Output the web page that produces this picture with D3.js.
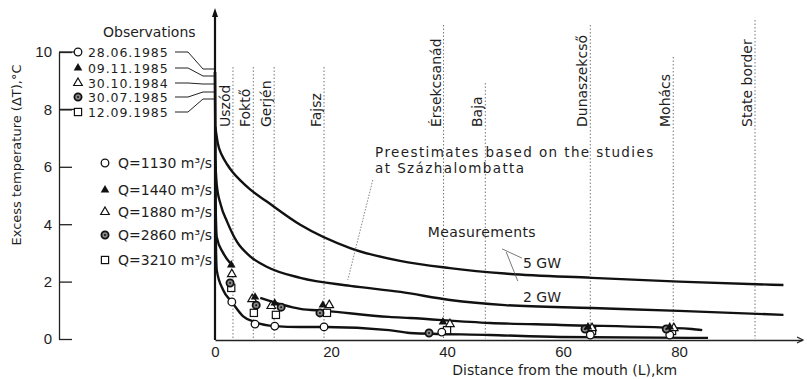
<!DOCTYPE html>
<html>
<head>
<meta charset="utf-8">
<script src="https://cdn.jsdelivr.net/npm/d3@7"></script>
<style>
  body { margin: 0; background: #fff; }
  svg { display: block; font-family: "DejaVu Sans", sans-serif; }
  text { fill: #1e1e1e; }
</style>
</head>
<body>
<div class="chart"></div>
<script>
// locations along the river (km from the mouth)
const placeNames = ['Uszód', 'Foktő', 'Gerjén', 'Fajsz', 'Érsekcsanád', 'Baja', 'Dunaszekcső', 'Mohács', 'State border'];
const placeKm = [3.1, 6.6, 10.2, 18.8, 39.4, 46.6, 64.7, 79.0, 93.1];

// observation dates and discharges
const obsDates = ['28.06.1985', '09.11.1985', '30.10.1984', '30.07.1985', '12.09.1985'];
const obsQ = ['Q=1130 m³/s', 'Q=1440 m³/s', 'Q=1880 m³/s', 'Q=2860 m³/s', 'Q=3210 m³/s'];
const obsSymbols = ['circle', 'triFilled', 'triOpen', 'dotCircle', 'square'];

// measured points [km, dT] per observation
const obs0628 = [[2.9, 1.29], [6.9, 0.52], [10.3, 0.45], [18.8, 0.42], [39.1, 0.24], [64.7, 0.14], [78.4, 0.14]];
const obs0911 = [[2.8, 2.58], [6.9, 1.46], [10.3, 1.25], [18.6, 1.18], [39.3, 0.59], [64.3, 0.42], [78.4, 0.42]];
const obs3010 = [[2.9, 2.26], [6.4, 1.39], [9.7, 1.15], [19.7, 1.18], [40.5, 0.52], [65.0, 0.38], [79.1, 0.38]];
const obs3007 = [[2.6, 1.95], [7.1, 1.18], [11.4, 1.11], [18.1, 0.91], [36.9, 0.21], [63.8, 0.35], [77.8, 0.35]];
const obs1209 = [[2.8, 1.78], [6.7, 0.91], [10.5, 0.84], [19.3, 0.91], [40.0, 0.31], [65.0, 0.28], [78.8, 0.28]];
const obsSeries = [obs0628, obs0911, obs3010, obs3007, obs1209];

// preestimate curves
const curve5GW = [[0.05, 7.4], [0.5, 6.8], [1.2, 6.4], [2.1, 6.08], [3.1, 5.8], [4.5, 5.5], [6.0, 5.22], [9.0, 4.78],
  [14.7, 3.98], [23.3, 3.17], [31.9, 2.72], [40.5, 2.47], [50, 2.28], [65, 2.13], [80, 2.0], [98, 1.88]];
const curve2GW = [[0.05, 6.2], [0.3, 5.37], [1.0, 4.67], [2.1, 4.08], [3.8, 3.38], [6.0, 2.89], [9.0, 2.51],
  [14.7, 2.13], [23.3, 1.85], [32, 1.64], [40.5, 1.36], [50, 1.18], [65, 1.08], [80, 0.98], [98, 0.84]];

// measurement curves
const measUpperA = [[0, 9.3], [0.1, 4.84], [0.3, 3.55], [1.4, 3.0], [2.6, 2.65]];
const measUpperB = [[7.8, 1.43], [14.7, 1.05], [19.0, 0.98], [30, 0.77], [33.6, 0.73], [47.4, 0.56], [59.5, 0.49], [82.2, 0.35], [84.0, 0.31]];
const measLower = [[0, 9.3], [0.1, 4.2], [0.3, 2.4], [1.4, 1.71], [2.9, 1.29], [4.8, 0.80], [6.9, 0.59], [10.3, 0.45],
  [14.7, 0.42], [19, 0.42], [30, 0.31], [33.6, 0.21], [47.4, 0.14], [59.5, 0.07], [82, 0.04], [85, 0.04]];

const xTicks = [0, 20, 40, 60, 80];
const yTicks = [0, 2, 4, 6, 8, 10];

const W = 807, H = 379;
const svg = d3.select('.chart').append('svg')
  .attr('width', W).attr('height', H);

const x = d3.scaleLinear().domain([0, 101.2]).range([215, 802]);
const y = d3.scaleLinear().domain([0, 10]).range([339, 52]);

// vertical location lines
const placeTops = [67, 67, 67, 67, 25, 83, 25, 57, 20];
placeKm.forEach((km, i) => {
  svg.append('line')
    .attr('x1', x(km)).attr('x2', x(km))
    .attr('y1', placeTops[i]).attr('y2', y(0))
    .attr('stroke', '#777').attr('stroke-width', 1)
    .attr('stroke-dasharray', '1.5,2');
  svg.append('text')
    .attr('transform', `translate(${x(km) - 3},127) rotate(-90)`)
    .attr('font-size', 14)
    .text(placeNames[i]);
});

// left axis
const leftAxis = d3.axisLeft(y).tickValues(yTicks).tickSizeInner(-13).tickSizeOuter(0).tickPadding(7);
svg.append('g')
  .attr('transform', 'translate(59,0)')
  .call(leftAxis)
  .call(g => g.selectAll('text').attr('font-size', 15).attr('fill', '#1e1e1e'))
  .call(g => g.selectAll('line, path').attr('stroke', '#222').attr('stroke-width', 1.3));

svg.append('text')
  .attr('transform', 'translate(21,155) rotate(-90)')
  .attr('text-anchor', 'middle')
  .attr('font-size', 13)
  .text('Excess temperature (ΔT),°C');

// main x axis
const xAxis = d3.axisBottom(x).tickValues(xTicks).tickSize(0).tickPadding(6);
svg.append('g')
  .attr('transform', `translate(0,${y(0) + 1})`)
  .call(xAxis)
  .call(g => g.selectAll('text').attr('font-size', 15).attr('fill', '#1e1e1e'))
  .call(g => g.select('path').attr('stroke', '#222').attr('stroke-width', 1.5));

svg.append('path')
  .attr('d', `M${x(101.2) - 5},${y(0) - 2} L${x(101.2) + 1},${y(0) + 1} L${x(101.2) - 5},${y(0) + 4}`)
  .attr('fill', 'none').attr('stroke', '#222').attr('stroke-width', 1.2);

svg.append('text')
  .attr('x', x(60.3)).attr('y', 375)
  .attr('text-anchor', 'middle')
  .attr('font-size', 14)
  .text('Distance from the mouth (L),km');

// main y axis with arrow
svg.append('line')
  .attr('x1', x(0)).attr('x2', x(0))
  .attr('y1', y(0) + 1).attr('y2', 14)
  .attr('stroke', '#111').attr('stroke-width', 2.2);
svg.append('path')
  .attr('d', `M${x(0) - 3},17 L${x(0)},8 L${x(0) + 3},17 Z`)
  .attr('fill', '#111');

// curves
const line = d3.line()
  .x(d => x(d[0]))
  .y(d => y(d[1]))
  .curve(d3.curveMonotoneX);

[curve5GW, curve2GW, measUpperA, measUpperB, measLower].forEach(c => {
  svg.append('path')
    .attr('d', line(c))
    .attr('fill', 'none')
    .attr('stroke', '#111')
    .attr('stroke-width', 2.4)
    .attr('stroke-linejoin', 'round');
});

// marker drawing
function marker(g, type) {
  if (type === 'circle') {
    g.append('circle').attr('r', 3.8).attr('fill', '#fff').attr('stroke', '#111').attr('stroke-width', 1.3);
  } else if (type === 'dotCircle') {
    g.append('circle').attr('r', 3.6).attr('fill', '#888').attr('stroke', '#111').attr('stroke-width', 1.8);
    g.append('circle').attr('r', 1).attr('fill', '#111');
  } else if (type === 'triFilled') {
    g.append('path').attr('d', d3.symbol(d3.symbolTriangle, 32)()).attr('fill', '#111');
  } else if (type === 'triOpen') {
    g.append('path').attr('d', d3.symbol(d3.symbolTriangle, 32)()).attr('fill', '#fff')
      .attr('stroke', '#111').attr('stroke-width', 1.2);
  } else {
    g.append('rect').attr('x', -3.6).attr('y', -3.6).attr('width', 7.2).attr('height', 7.2)
      .attr('fill', '#fff').attr('stroke', '#111').attr('stroke-width', 1.2);
  }
}

// draw open/hollow first so filled stay visible
[4, 0, 2, 3, 1].forEach(si => {
  obsSeries[si].forEach(p => {
    const g = svg.append('g').attr('transform', `translate(${x(p[0])},${y(p[1])})`);
    marker(g, obsSymbols[si]);
  });
});

// Observations legend
svg.append('text').attr('x', 103).attr('y', 37).attr('font-size', 14).text('Observations');
const legY = [52, 68, 83, 97, 112];
const leadEnd = [69, 76, 84, 92, 99];
obsDates.forEach((d, i) => {
  const g = svg.append('g').attr('transform', `translate(78,${legY[i]})`);
  marker(g, obsSymbols[i]);
  svg.append('text').attr('x', 88).attr('y', legY[i] + 4.5).attr('font-size', 12.5)
    .attr('letter-spacing', 0.9).text(d);
  svg.append('path')
    .attr('d', `M175,${legY[i]} H188 L203,${leadEnd[i]} H214`)
    .attr('fill', 'none').attr('stroke', '#222').attr('stroke-width', 1);
});
// connectors from axis ticks to the first and last legend marks
svg.append('line').attr('x1', 59).attr('x2', 74).attr('y1', y(10)).attr('y2', y(10)).attr('stroke', '#222').attr('stroke-width', 1.3);
svg.append('line').attr('x1', 59).attr('x2', 74).attr('y1', y(8)).attr('y2', y(8)).attr('stroke', '#222').attr('stroke-width', 1.3);

// Q legend
const qY = [163, 190, 212, 235, 260];
obsQ.forEach((q, i) => {
  const g = svg.append('g').attr('transform', `translate(105,${qY[i]})`);
  marker(g, obsSymbols[i]);
  svg.append('text').attr('x', 118).attr('y', qY[i] + 5).attr('font-size', 14).text(q);
});

// annotations
svg.append('text').attr('x', x(27.6)).attr('y', y(6.52) + 5).attr('font-size', 13.5)
  .attr('letter-spacing', 1.4).text('Preestimates  based  on  the  studies');
svg.append('text').attr('x', x(27.6)).attr('y', y(5.96) + 5).attr('font-size', 13.5)
  .attr('letter-spacing', 1.4).text('at  Százhalombatta');
svg.append('line')
  .attr('x1', x(27.2)).attr('y1', y(5.54)).attr('x2', x(22.9)).attr('y2', y(2.06))
  .attr('stroke', '#666').attr('stroke-width', 0.8).attr('stroke-dasharray', '1.5,1.5');

svg.append('text').attr('x', x(36.7)).attr('y', y(3.73) + 5).attr('font-size', 14)
  .attr('letter-spacing', 0.4).text('Measurements');
svg.append('text').attr('x', x(53.1)).attr('y', y(2.65) + 5).attr('font-size', 14).text('5 GW');
svg.append('text').attr('x', x(53.1)).attr('y', y(1.46) + 5).attr('font-size', 14).text('2 GW');
svg.append('line')
  .attr('x1', x(49.5)).attr('y1', y(3.14)).attr('x2', x(52.9)).attr('y2', y(2.82))
  .attr('stroke', '#555').attr('stroke-width', 0.8);
svg.append('line')
  .attr('x1', x(50.2)).attr('y1', y(3.03)).attr('x2', x(52.2)).attr('y2', y(2.02))
  .attr('stroke', '#555').attr('stroke-width', 0.8);
</script>
</body>
</html>
